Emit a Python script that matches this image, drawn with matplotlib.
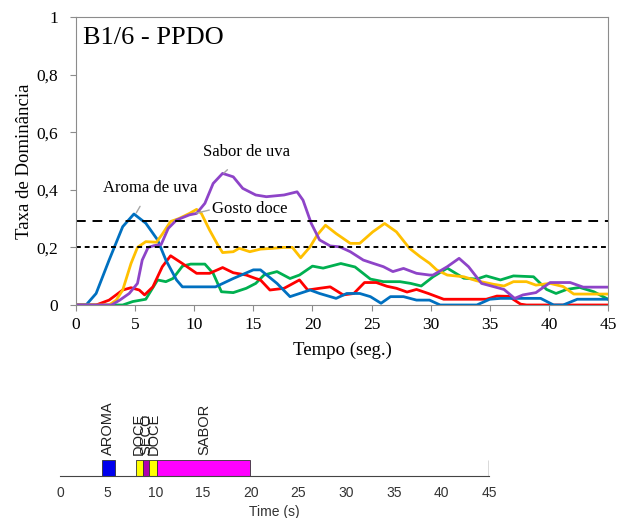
import matplotlib
matplotlib.use("Agg")
from matplotlib import pyplot as plt

# dominance curves (time in s, rate)
blue_t = [0, 0.85, 1.7, 2.8, 3.95, 4.9, 5.9, 6.9, 7.6, 8.5, 9.0, 11.8, 13.3, 15.0, 15.6,
          17.0, 18.1, 19.8, 20.6, 22.0, 22.9, 24.0, 24.9, 25.8, 26.6, 27.7, 28.8, 29.9,
          30.8, 33.9, 35.0, 35.9, 39.3, 40.4, 41.2, 42.4, 45]
blue_y = [0, 0, 0.04, 0.156, 0.272, 0.316, 0.284, 0.226, 0.156, 0.087, 0.063, 0.063, 0.092,
          0.122, 0.122, 0.075, 0.029, 0.052, 0.04, 0.023, 0.04, 0.04, 0.029, 0.006, 0.029,
          0.029, 0.017, 0.017, 0, 0, 0.02, 0.023, 0.023, 0, 0, 0.02, 0.02]

red_t = [0, 1.7, 2.8, 3.95, 4.65, 5.35, 5.8, 6.5, 7.3, 8.0, 9.0, 10.2, 11.3, 12.4, 13.3,
         14.4, 15.2, 15.6, 16.4, 17.6, 18.9, 19.6, 20.6, 21.5, 22.6, 23.5, 24.4, 25.4,
         26.3, 27.1, 28.0, 28.8, 29.8, 31.1, 34.7, 35.6, 36.6, 37.6, 38.1, 45]
red_y = [0, 0, 0.017, 0.052, 0.06, 0.052, 0.035, 0.063, 0.133, 0.171, 0.144, 0.11, 0.11,
         0.13, 0.112, 0.104, 0.092, 0.087, 0.052, 0.058, 0.087, 0.052, 0.058, 0.063, 0.035,
         0.04, 0.078, 0.078, 0.065, 0.058, 0.045, 0.054, 0.04, 0.02, 0.02, 0.031, 0.03,
         0.003, 0, 0]

green_t = [0, 3.95, 4.8, 5.9, 6.9, 7.6, 8.2, 9.0, 9.7, 10.9, 11.6, 12.3, 13.3, 14.4, 15.2,
           15.9, 17.0, 18.1, 18.9, 20.0, 20.9, 22.4, 23.6, 24.9, 26.0, 27.4, 28.3, 29.2,
           30.2, 31.4, 32.8, 33.9, 34.7, 35.9, 37.0, 38.7, 39.8, 40.6, 41.5, 42.6, 43.8, 45]
green_y = [0, 0, 0.012, 0.02, 0.087, 0.081, 0.092, 0.135, 0.142, 0.142, 0.11, 0.046, 0.043,
           0.058, 0.075, 0.104, 0.116, 0.092, 0.104, 0.135, 0.128, 0.144, 0.132, 0.09, 0.081,
           0.081, 0.075, 0.066, 0.098, 0.128, 0.093, 0.09, 0.101, 0.087, 0.101, 0.098, 0.054,
           0.04, 0.054, 0.061, 0.046, 0.02]

yellow_t = [0, 2.8, 3.4, 3.95, 4.65, 5.2, 5.9, 6.8, 7.3, 8.0, 8.7, 9.6, 10.2, 10.6, 11.3,
            12.0, 12.4, 13.3, 13.8, 14.7, 15.6, 16.7, 17.6, 18.3, 19.0, 19.8, 20.4, 21.1,
            22.0, 23.2, 24.0, 25.1, 26.1, 27.1, 28.2, 29.1, 29.9, 30.5, 31.4, 32.8, 33.9,
            35.3, 36.2, 37.0, 38.1, 38.9, 40.1, 41.2, 42.1, 43.2, 45]
yellow_y = [0, 0, 0.017, 0.052, 0.144, 0.2, 0.22, 0.218, 0.246, 0.29, 0.3, 0.318, 0.332,
            0.318, 0.26, 0.208, 0.182, 0.185, 0.197, 0.185, 0.194, 0.197, 0.2, 0.2, 0.164,
            0.202, 0.243, 0.277, 0.248, 0.214, 0.214, 0.254, 0.283, 0.254, 0.197, 0.168,
            0.145, 0.122, 0.104, 0.098, 0.084, 0.072, 0.066, 0.081, 0.081, 0.069, 0.075,
            0.064, 0.038, 0.038, 0.038]

purple_t = [0, 3.0, 3.7, 4.5, 5.2, 5.6, 6.1, 6.6, 7.2, 7.8, 8.5, 9.6, 10.2, 10.9, 11.6,
            12.4, 13.3, 14.1, 15.2, 16.1, 17.6, 18.7, 19.2, 19.9, 20.6, 21.5, 22.3, 23.2,
            24.3, 25.1, 26.0, 26.8, 27.7, 28.8, 29.9, 30.2, 31.4, 32.4, 33.2, 34.3, 35.3,
            36.2, 37.1, 37.8, 38.9, 40.1, 41.8, 42.9, 45]
purple_y = [0, 0, 0.017, 0.04, 0.075, 0.156, 0.2, 0.206, 0.21, 0.266, 0.295, 0.313, 0.318,
            0.353, 0.422, 0.457, 0.445, 0.405, 0.382, 0.376, 0.382, 0.393, 0.364, 0.283,
            0.226, 0.205, 0.202, 0.185, 0.156, 0.145, 0.133, 0.116, 0.127, 0.11, 0.104,
            0.104, 0.133, 0.162, 0.133, 0.075, 0.064, 0.054, 0.023, 0.035, 0.043, 0.078,
            0.078, 0.062, 0.062]

chance_level = 0.2
signif_level = 0.29

# dominant attribute bands (start, end, label, label position)
band_start = [4.4, 8.0, 8.75, 9.3, 10.15]
band_end = [5.75, 8.75, 9.3, 10.15, 19.95]
band_color = ['#0000EE', '#FFFF00', '#B000B0', '#FFFF00', '#FF00FF']
band_text = ['AROMA', 'DOCE', 'SECO', 'DOCE', 'SABOR']
band_text_x = [5.0, 8.3, 9.1, 9.8, 15.1]

fig = plt.figure(figsize=(6.19, 5.18), dpi=100)
serif = ['Liberation Serif', 'DejaVu Serif']
sans = ['Liberation Sans', 'DejaVu Sans']

ax = fig.add_axes([0.1228, 0.4112, 0.8595, 0.556])
lw = 2.0
ax.plot(green_t, green_y, color='#00B050', lw=lw, solid_joinstyle='round')
ax.plot(red_t, red_y, color='#FF0000', lw=lw, solid_joinstyle='round')
ax.plot(blue_t, blue_y, color='#0070C0', lw=lw, solid_joinstyle='round')
ax.plot(yellow_t, yellow_y, color='#FFC000', lw=lw, solid_joinstyle='round')
ax.plot(purple_t, purple_y, color='#8E44C8', lw=lw, solid_joinstyle='round')
ax.axhline(signif_level, color='black', lw=1.4, dashes=(5, 3.5))
ax.axhline(chance_level, color='black', lw=1.4, dashes=(2.5, 2))

ax.set_xlim(0, 45)
ax.set_ylim(0, 1)
ax.set_xticks(range(0, 46, 5))
ax.set_yticks([0, 0.2, 0.4, 0.6, 0.8, 1])
ax.set_yticklabels(['0', '0,2', '0,4', '0,6', '0,8', '1'])
for s in ax.spines.values():
    s.set_color('#8c8c8c')
ax.tick_params(colors='#8c8c8c', labelcolor='black', length=4, labelsize=12.5)
ax.tick_params(axis='y', pad=9)
ax.tick_params(axis='x', pad=5)
for lab in ax.get_xticklabels() + ax.get_yticklabels():
    lab.set_family(serif)
ax.set_xlabel('Tempo (seg.)', family=serif, fontsize=13.5, labelpad=6)
ax.set_ylabel('Taxa de Dominância', family=serif, fontsize=13.5, labelpad=2)
ax.text(0.014, 0.965, 'B1/6 - PPDO', transform=ax.transAxes, family=serif,
        fontsize=19, va='top', ha='left')

gray = '#a6a6a6'
ax.annotate('Aroma de uva', xy=(5.1, 0.32), xytext=(6.3, 0.405), family=serif,
            fontsize=12, ha='center', va='center',
            arrowprops=dict(arrowstyle='-', color=gray, lw=1, shrinkA=6, shrinkB=0))
ax.annotate('Sabor de uva', xy=(12.5, 0.458), xytext=(14.4, 0.53), family=serif,
            fontsize=12, ha='center', va='center',
            arrowprops=dict(arrowstyle='-', color=gray, lw=1, shrinkA=7, shrinkB=0))
ax.annotate('Gosto doce', xy=(10.2, 0.319), xytext=(14.7, 0.332), family=serif,
            fontsize=12, ha='center', va='center',
            arrowprops=dict(arrowstyle='-', color=gray, lw=1, shrinkA=0, shrinkB=0,
                            relpos=(0, 0.5)))

# bottom panel: dominant attributes over time
bx = fig.add_axes([0.0969, 0.0811, 0.6931, 0.1467])
for s0, s1, c in zip(band_start, band_end, band_color):
    bx.bar(s0, 1, width=s1 - s0, align='edge', color=c, edgecolor='#333333', lw=0.6)
for tx, lab in zip(band_text_x, band_text):
    bx.text(tx, 1.3, lab, rotation=90, ha='center', va='bottom', fontsize=10.5,
            family=sans, color='#222222')
bx.vlines(45, 0, 1, color='#444444', lw=1)
bx.set_xlim(0, 45)
bx.set_ylim(0, 4.75)
for side in ['top', 'right', 'left']:
    bx.spines[side].set_visible(False)
bx.spines['bottom'].set_color('#444444')
bx.set_yticks([])
bx.set_xticks(range(0, 46, 5))
bx.tick_params(axis='x', length=0, labelsize=10, labelcolor='#333333', pad=7)
for lab in bx.get_xticklabels():
    lab.set_family(sans)
bx.set_xlabel('Time (s)', fontsize=10, family=sans, color='#333333', labelpad=4)

fig.savefig('out.png', dpi=100)
